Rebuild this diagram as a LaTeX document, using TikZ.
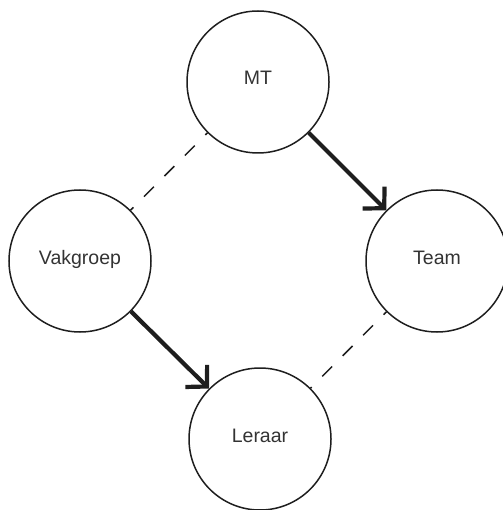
\documentclass[tikz,border=0pt]{standalone}
\usepackage{fontspec}
\setmainfont{Liberation Sans}
\usetikzlibrary{arrows.meta}
\definecolor{ink}{HTML}{1E1E1E}
\definecolor{labelgray}{HTML}{333333}
\begin{document}
\begin{tikzpicture}[x=1pt,y=-1pt,
  role/.style={circle,draw=ink,line width=1.5pt,minimum size=142pt,inner sep=0pt,
    text height=14pt,text depth=8pt,
    font=\fontsize{19.5}{22}\selectfont,text=labelgray},
  link/.style={draw=ink,line width=1.5pt,dash pattern=on 14pt off 15pt,dash phase=10pt},
  flow/.style={draw=ink,line width=4.2pt,
    -{Straight Barb[sharp,length=15pt,width=31pt,line width=4.2pt]}}]
  \useasboundingbox (0,0) rectangle (502,510);
  % the four roles
  \node[role] (mt)   at (258,82)  {MT};
  \node[role] (vak)  at (80,261)  {Vakgroep};
  \node[role] (team) at (437,261) {Team};
  \node[role] (ler)  at (260,439) {Leraar};
  % loose ties
  \path[link] (vak) -- (mt);
  \path[link] (team) -- (ler);
  % directed influence
  \path[flow] (mt) -- (team);
  \path[flow] (vak) -- (ler);
\end{tikzpicture}
\end{document}
